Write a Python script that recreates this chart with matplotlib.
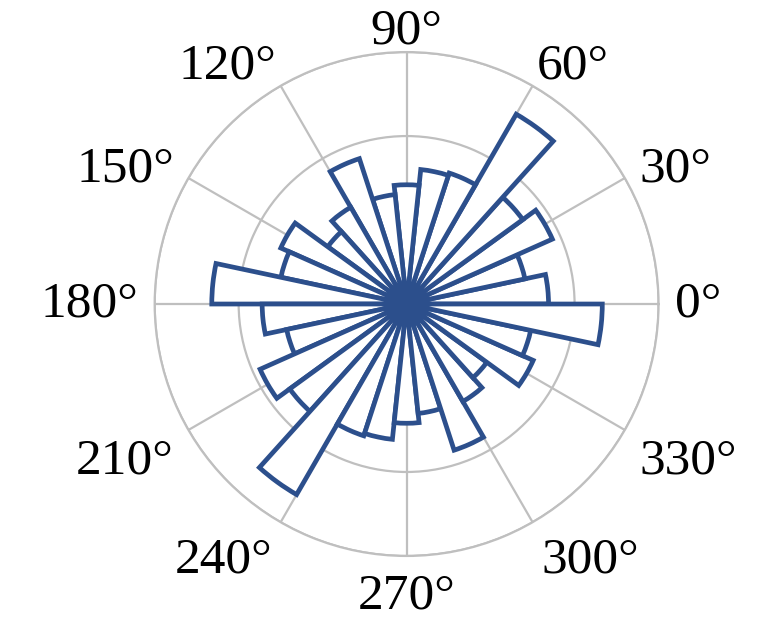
import numpy as np
import matplotlib
matplotlib.use("Agg")
import matplotlib.pyplot as plt

# 12 degree bins, start angle of each bin (deg)
bin_start = np.arange(0, 360, 12)
bin_width = 12
# bar lengths (inner ring = 10)
counts = [16.9, 14.4, 19.0, 17.1, 26.1, 16.4, 16.1, 14.2, 13.1, 18.2,
          13.3, 11.6, 16.4, 15.3, 23.2,
          17.2, 14.6, 19.1, 17.2, 26.2, 16.5, 16.2, 14.2, 13.1, 18.3,
          13.4, 11.8, 16.5, 15.1, 23.3]
rings = [10, 20, 30]
angle_ticks = np.arange(0, 360, 30)
angle_labels = [f"{a}\u00b0" for a in angle_ticks]

plt.rcParams['font.family'] = ['Liberation Serif', 'DejaVu Serif']

fig = plt.figure(figsize=(7.8, 6.2), dpi=100)
ax = fig.add_axes([0.1983, 0.1032, 0.646, 0.8129], projection='polar')

theta = np.deg2rad(bin_start)
ax.bar(theta, counts, width=np.deg2rad(bin_width), align='edge',
       facecolor='white', edgecolor='#2C4F8C', linewidth=3.4, zorder=3)

ax.set_ylim(0, 30)
ax.set_yticks(rings)
ax.set_yticklabels([])
ax.set_xticks(np.deg2rad(angle_ticks))
ax.set_xticklabels([])
ax.grid(True, color='#BFBFBF', linewidth=1.6)
ax.spines['polar'].set_color('#BFBFBF')
ax.spines['polar'].set_linewidth(1.6)

# labels outside the circle, anchored on the side facing the centre
for a, lab in zip(angle_ticks, angle_labels):
    c, s = np.cos(np.deg2rad(a)), np.sin(np.deg2rad(a))
    ha = 'left' if c > 0.3 else ('right' if c < -0.3 else 'center')
    if s > 0.6:
        va, r = 'baseline', 31.0
    elif s < -0.4:
        va, r = 'top', 32.0
    else:
        va, r = 'center', 32.0
    ax.text(np.deg2rad(a), r, lab, ha=ha, va=va, fontsize=37)

fig.savefig("out.png", dpi=100)
